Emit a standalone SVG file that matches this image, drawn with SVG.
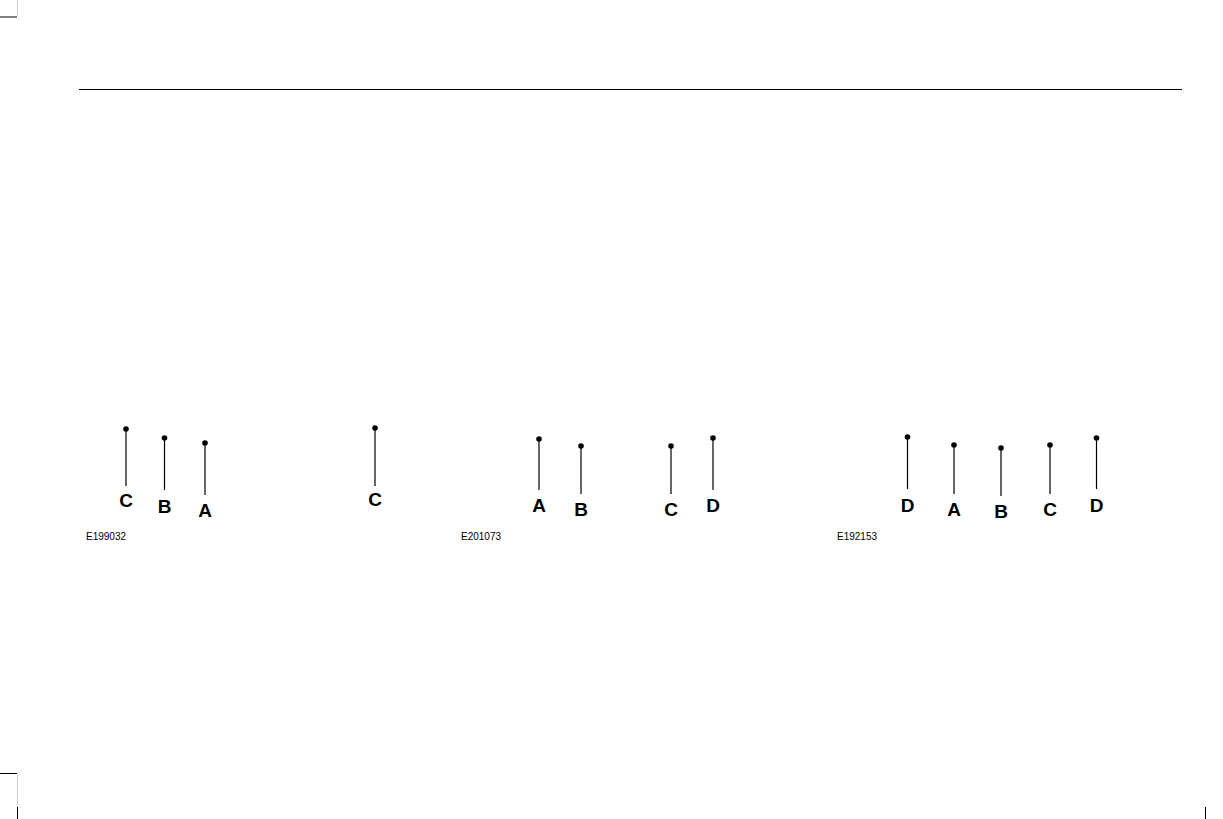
<svg xmlns="http://www.w3.org/2000/svg" width="1223" height="819" viewBox="0 0 1223 819">
<style>
.ln{stroke:#000;stroke-width:1.2;fill:none}
.dot{fill:#000}
.lb{font-family:"Liberation Sans",Arial,sans-serif;font-weight:bold;font-size:19px;text-anchor:middle;fill:#000}
.id{font-family:"Liberation Sans",Arial,sans-serif;font-size:10px;fill:#000}
.crop{stroke:#000;stroke-width:1;fill:none}
.cropg{stroke:#ccc;stroke-width:1;fill:none}
</style>
<rect width="1223" height="819" fill="#fff"/>
<g id="crop-marks">
<line class="crop" x1="0" y1="17" x2="17" y2="17"/>
<line class="cropg" x1="17.5" y1="0" x2="17.5" y2="16"/>
<line class="crop" x1="0" y1="773.5" x2="17" y2="773.5"/>
<line class="cropg" x1="17.5" y1="774" x2="17.5" y2="806"/>
<line class="crop" x1="17.5" y1="807" x2="17.5" y2="819"/>
<line class="crop" x1="1205.5" y1="807" x2="1205.5" y2="819"/>
</g>
<line id="header-rule" x1="79" y1="89.5" x2="1182" y2="89.5" stroke="#000" stroke-width="1"/>
<g id="connectors">
<line class="ln" x1="126" y1="429" x2="126" y2="486"/>
<line class="ln" x1="164.5" y1="438" x2="164.5" y2="490"/>
<line class="ln" x1="205" y1="443" x2="205" y2="495"/>
<line class="ln" x1="375" y1="428" x2="375" y2="486"/>
<line class="ln" x1="539" y1="439" x2="539" y2="490"/>
<line class="ln" x1="581" y1="446" x2="581" y2="494"/>
<line class="ln" x1="671" y1="446" x2="671" y2="494"/>
<line class="ln" x1="713" y1="438" x2="713" y2="490"/>
<line class="ln" x1="907.5" y1="437" x2="907.5" y2="489"/>
<line class="ln" x1="954" y1="445" x2="954" y2="494"/>
<line class="ln" x1="1001" y1="448" x2="1001" y2="496"/>
<line class="ln" x1="1050" y1="445" x2="1050" y2="494"/>
<line class="ln" x1="1096.5" y1="438" x2="1096.5" y2="489"/>
</g>
<g id="fig1">
<text class="id" x="86" y="540">E199032</text>
<g id="f1-C"><circle class="dot" cx="126" cy="429" r="2.8"/><text class="lb" x="126" y="506.5">C</text></g>
<g id="f1-B"><circle class="dot" cx="164.5" cy="438" r="2.8"/><text class="lb" x="164.5" y="512.5">B</text></g>
<g id="f1-A"><circle class="dot" cx="205" cy="443" r="2.8"/><text class="lb" x="205" y="516.5">A</text></g>
<g id="f1-C2"><circle class="dot" cx="375" cy="428" r="2.8"/><text class="lb" x="375" y="506">C</text></g>
</g>
<g id="fig2">
<text class="id" x="461" y="540">E201073</text>
<g id="f2-A"><circle class="dot" cx="539" cy="439" r="2.8"/><text class="lb" x="539" y="512">A</text></g>
<g id="f2-B"><circle class="dot" cx="581" cy="446" r="2.8"/><text class="lb" x="581" y="516">B</text></g>
<g id="f2-C"><circle class="dot" cx="671" cy="446" r="2.8"/><text class="lb" x="671" y="516">C</text></g>
<g id="f2-D"><circle class="dot" cx="713" cy="438" r="2.8"/><text class="lb" x="713" y="512">D</text></g>
</g>
<g id="fig3">
<text class="id" x="837" y="540">E192153</text>
<g id="f3-D"><circle class="dot" cx="907.5" cy="437" r="2.8"/><text class="lb" x="907.5" y="511.5">D</text></g>
<g id="f3-A"><circle class="dot" cx="954" cy="445" r="2.8"/><text class="lb" x="954" y="516">A</text></g>
<g id="f3-B"><circle class="dot" cx="1001" cy="448" r="2.8"/><text class="lb" x="1001" y="517.5">B</text></g>
<g id="f3-C"><circle class="dot" cx="1050" cy="445" r="2.8"/><text class="lb" x="1050" y="516">C</text></g>
<g id="f3-D2"><circle class="dot" cx="1096.5" cy="438" r="2.8"/><text class="lb" x="1096.5" y="511.5">D</text></g>
</g>
</svg>
